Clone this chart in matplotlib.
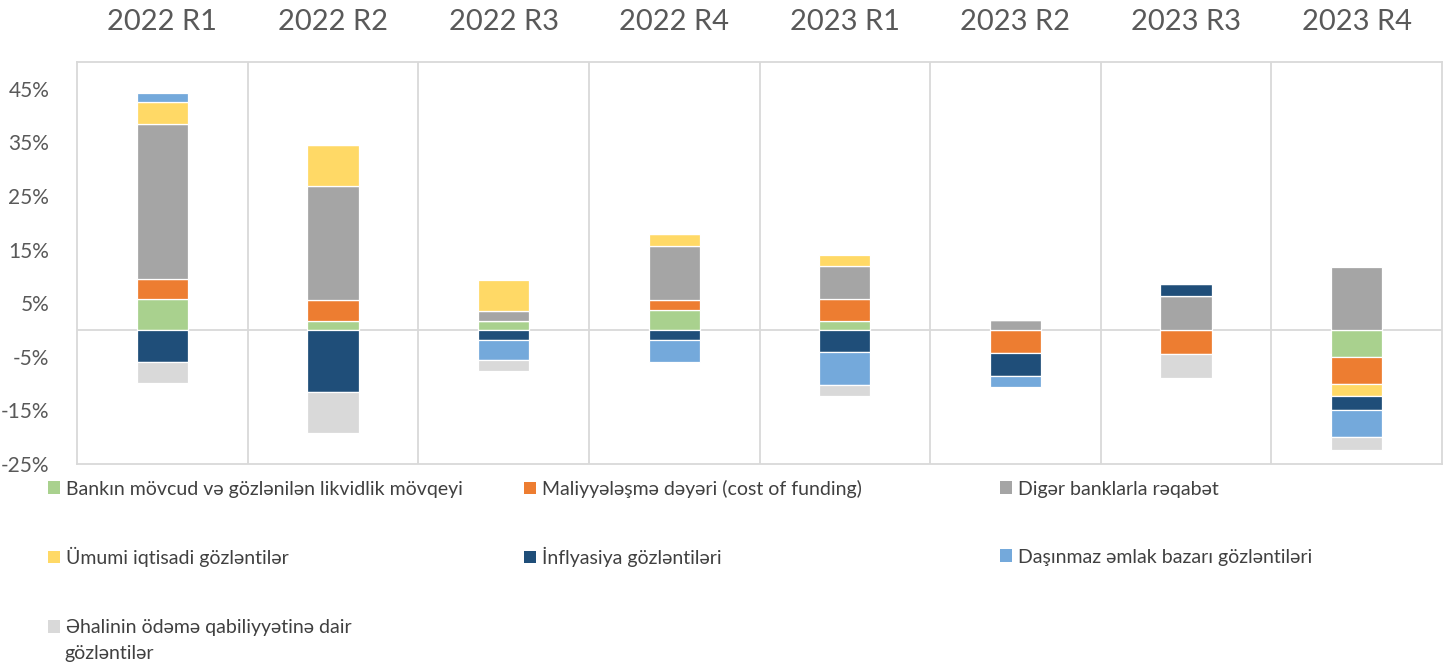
import matplotlib
matplotlib.use("Agg")
import matplotlib.pyplot as plt
import matplotlib.transforms as mtransforms
from matplotlib.patches import Patch
import numpy as np

plt.rcParams['font.family'] = ['Lato', 'DejaVu Sans']

quarters = ["2022 R1", "2022 R2", "2022 R3", "2022 R4",
            "2023 R1", "2023 R2", "2023 R3", "2023 R4"]

series_names = [
    "Bankın mövcud və gözlənilən likvidlik mövqeyi",
    "Maliyyələşmə dəyəri (cost of funding)",
    "Digər banklarla rəqabət",
    "Ümumi iqtisadi gözləntilər",
    "İnflyasiya gözləntiləri",
    "Daşınmaz əmlak bazarı gözləntiləri",
    "Əhalinin ödəmə qabiliyyətinə dair\ngözləntilər",
]

likvidlik = [5.75, 1.75, 1.75, 3.75, 1.75, 0.0, 0.0, -5.0]
maliyye = [3.75, 3.9, 0.0, 1.9, 4.1, -4.2, -4.4, -5.0]
reqabet = [29.0, 21.2, 1.85, 10.0, 6.1, 1.9, 6.3, 11.75]
umumi = [4.0, 7.7, 5.8, 2.2, 2.1, 0.0, 0.0, -2.4]
inflyasiya = [-6.0, -11.6, -1.8, -1.8, -4.1, -4.3, 2.3, -2.5]
dasinmaz = [1.75, 0.0, -3.8, -4.1, -6.1, -2.1, 0.0, -5.1]
ehali = [-3.8, -7.6, -2.0, 0.0, -2.1, 0.0, -4.6, -2.4]

series = [likvidlik, maliyye, reqabet, umumi, inflyasiya, dasinmaz, ehali]
colors = ["#A9D18E", "#ED7D31", "#A5A5A5", "#FFD966", "#1F4E79", "#74A9DB", "#D9D9D9"]

W, H = 1448, 667
fig = plt.figure(figsize=(W / 100, H / 100), dpi=100)
ax = fig.add_axes([77 / W, (H - 464) / H, (1442 - 77) / W, (464 - 62) / H])

x = np.arange(len(quarters))
pos_bottom = np.zeros(len(quarters))
neg_bottom = np.zeros(len(quarters))
for vals, col in zip(series, colors):
    v = np.array(vals, dtype=float)
    bottom = np.where(v >= 0, pos_bottom, neg_bottom)
    ax.bar(x, v, 0.3, bottom=bottom, color=col, edgecolor="white", linewidth=0.9, zorder=3)
    pos_bottom = pos_bottom + np.where(v > 0, v, 0)
    neg_bottom = neg_bottom + np.where(v < 0, v, 0)

grid_col = "#D9D9D9"
ax.set_xlim(-0.5, len(quarters) - 0.5)
ax.set_ylim(-25, 50)
for i in range(1, len(quarters)):
    ax.axvline(i - 0.5, color=grid_col, lw=1.3, zorder=1)
ax.axhline(0, color=grid_col, lw=1.3, zorder=2)
for s in ax.spines.values():
    s.set_color(grid_col)
    s.set_linewidth(1.3)

yt = np.arange(-25, 46, 10)
ax.set_yticks(yt)
ax.set_yticklabels([f"{t}%" for t in yt], fontsize=15, color="#595959")
ax.set_xticks([])
ax.tick_params(axis='y', length=0, pad=20)

trans = mtransforms.blended_transform_factory(ax.transData, fig.transFigure)
for i, q in enumerate(quarters):
    ax.text(i, (H - 22) / H, q, transform=trans, ha="center", va="center",
            fontsize=21, color="#595959")

# legend entries placed individually
leg_pos = [(48, 489), (524, 489), (1000, 489),
           (48, 557), (524, 557), (1000, 557),
           (48, 628)]
for idx, (name, col) in enumerate(zip(series_names, colors)):
    px, py = leg_pos[idx]
    lines = name.split("\n")
    h = Patch(facecolor=col, edgecolor="none")
    leg = fig.legend([h], [lines[0]], loc="center left",
                     bbox_to_anchor=(px / W, (H - py) / H),
                     frameon=False, fontsize=14, handlelength=0.6, handleheight=0.6,
                     handletextpad=0.35, borderpad=0, borderaxespad=0)
    for t in leg.get_texts():
        t.set_color("#404040")
    if len(lines) > 1:
        fig.text(64 / W, (H - py - 25) / H, lines[1], fontsize=14, color="#404040",
                 ha="left", va="center")

fig.savefig("out.png", dpi=100, facecolor="white")
